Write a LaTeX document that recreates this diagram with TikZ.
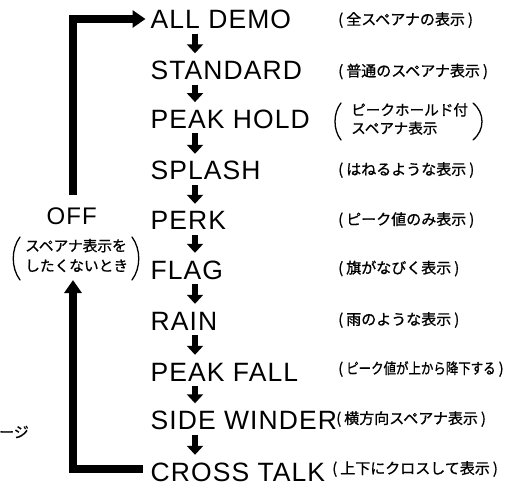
\documentclass[tikz,border=0pt]{standalone}
\usepackage{fontspec}
\setmainfont{Liberation Sans}
\newfontfamily\modefont[LetterSpace=4]{Liberation Sans}
\newfontfamily\offfont[LetterSpace=5]{Liberation Sans}
\newfontfamily\jpfont[FakeBold=0.9]{Noto Sans CJK JP}
\usetikzlibrary{arrows.meta,calc}
\begin{document}
\begin{tikzpicture}[x=1pt,y=1pt,
  mode/.style={font=\modefont\fontsize{26.5}{30}\selectfont, inner sep=0pt,
    text height=19pt, text depth=0pt, anchor=base west},
  desc/.style={font=\jpfont\fontsize{15}{18}\selectfont, inner sep=0pt, anchor=west},
  stepdown/.style={line width=5.5pt, -{Triangle[width=16pt,length=9pt]}},
  looparrow/.style={line width=7.5pt, line join=miter, -{Triangle[width=17pt,length=13pt]}},
  parenline/.style={line width=1.3pt, line cap=round}
]
\useasboundingbox (0,0) rectangle (510,482);

% modes
\node[mode] (m1)  at (150.5,453.5) {ALL DEMO};
\node[mode] (m2)  at (150.5,402.5) {STANDARD};
\node[mode] (m3)  at (150.5,353.7) {PEAK HOLD};
\node[mode] (m4)  at (150.5,302)   {SPLASH};
\node[mode] (m5)  at (150.5,252)   {PERK};
\node[mode] (m6)  at (150.5,203)   {FLAG};
\node[mode] (m7)  at (150.5,152)   {RAIN};
\node[mode] (m8)  at (150.5,101)   {PEAK FALL};
\node[mode] (m9)  at (150.5,52.5)  {SIDE WINDER};
\node[mode] (m10) at (150.5,1)     {CROSS TALK};

\foreach \a/\b in {m1/m2,m2/m3,m3/m4,m4/m5,m5/m6,m6/m7,m7/m8,m8/m9,m9/m10}
  \draw[stepdown] ([shift={(44.5pt,-5pt)}]\a.south west) -- ([shift={(44.5pt,7pt)}]\b.north west);

% descriptions
\node[desc] (d1)  at (338,462)   {(\hspace{3pt}全スペアナの表示\hspace{3pt})};
\node[desc] (d2)  at (338,410.5) {(\hspace{3pt}普通のスペアナ表示\hspace{3pt})};
\node[desc, font=\jpfont\fontsize{14.6}{18.3}\selectfont, align=left] (d3) at (351,363) {ピークホールド付\\スペアナ表示};
\node[desc] (d4)  at (338,312)   {(\hspace{3pt}はねるような表示\hspace{3pt})};
\node[desc] (d5)  at (338,262)   {(\hspace{3pt}ピーク値のみ表示\hspace{3pt})};
\node[desc] (d6)  at (338,213.5) {(\hspace{3pt}旗がなびく表示\hspace{3pt})};
\node[desc] (d7)  at (338,162)   {(\hspace{3pt}雨のような表示\hspace{3pt})};
\node[desc] (d8)  at (338,113)   {(\hspace{3pt}\scalebox{0.83}[1]{ピーク値が上から降下する}\hspace{3pt})};
\node[desc] (d9)  at (336,63)    {(\hspace{3pt}横方向スペアナ表示\hspace{3pt})};
\node[desc] (d10) at (332,13)    {(\hspace{3pt}上下にクロスして表示\hspace{3pt})};

% parens of PEAK HOLD description
\draw[parenline] (341,379) .. controls +(-8,-10) and +(-8,10) .. (341,342);
\draw[parenline] (473,379) .. controls +(12,-10) and +(12,10) .. (473,342);

% OFF
\node[font=\offfont\fontsize{24}{28}\selectfont, inner sep=0pt, text height=17pt, text depth=0pt, anchor=base] (off) at (71.7,257) {OFF};
\node[desc, font=\jpfont\fontsize{14.7}{20}\selectfont, align=left] (note) at (25,226.5) {スペアナ表示を\\したくないとき};
\draw[parenline] (20,245) .. controls +(-9,-12) and +(-9,12) .. (20,202);
\draw[parenline] (132,245) .. controls +(9,-12) and +(9,12) .. (132,202);

% fragment at left edge
\node[desc, anchor=east] (frag) at (29,50) {ージ};

% loop
\coordinate (loopx) at (73,0);
\coordinate (offtop) at ([yshift=13pt]off.north);
\coordinate (notetip) at ([yshift=-7.7pt]note.south);
\draw[looparrow, shorten >=5pt] (offtop -| loopx) |- (m1.west);
\draw[looparrow, shorten <=8pt] ([yshift=2.5pt]m10.west) -| (notetip -| loopx);
\end{tikzpicture}
\end{document}
